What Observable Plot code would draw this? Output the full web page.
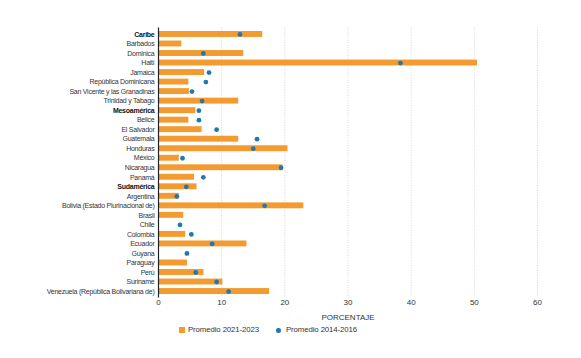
<!DOCTYPE html>
<html>
<head>
<meta charset="utf-8">
<script src="https://cdn.jsdelivr.net/npm/d3@7"></script>
<script src="https://cdn.jsdelivr.net/npm/@observablehq/plot@0.6"></script>
<style>
  body { margin: 0; background: #fff; font-family: "Liberation Sans", Arial, sans-serif; }
  #chart { width: 581px; }
  #chart svg { display: block; }
  .lg { position: relative; height: 20px; width: 581px; font-size: 7.8px; color: #333; letter-spacing: -0.1px; }
  .lg .it { position: absolute; top: 3px; white-space: nowrap; line-height: 10px; }
  .lg .sw { position: absolute; }
  .ylab text { letter-spacing: -0.25px; }
</style>
</head>
<body>
<div id="chart"></div>
<script>
const names = ["Caribe","Barbados","Dominica","Haití","Jamaica","República Dominicana","San Vicente y las Granadinas","Trinidad y Tabago","Mesoamérica","Belice","El Salvador","Guatemala","Honduras","México","Nicaragua","Panamá","Sudamérica","Argentina","Bolivia (Estado Plurinacional de)","Brasil","Chile","Colombia","Ecuador","Guyana","Paraguay","Perú","Suriname","Venezuela (República Bolivariana de)"];
const regions = ["Caribe","Mesoamérica","Sudamérica"];
const prom2021 = [16.5,3.7,13.5,50.5,7.3,4.8,4.9,12.7,5.9,4.8,6.9,12.7,20.5,3.3,19.7,5.7,6.1,3.3,23.0,4.0,null,4.3,14.0,null,4.6,7.2,10.2,17.6];
const prom2014 = [12.9,null,7.1,38.3,8.0,7.5,5.3,6.9,6.4,6.4,9.2,15.6,15.0,3.8,19.4,7.1,4.4,2.9,16.8,null,3.4,5.2,8.5,4.5,null,5.9,9.2,11.1];
const xTicks = [0,10,20,30,40,50,60];
const legendLabels = ["Promedio 2021-2023","Promedio 2014-2016"];

const data = names.map((n, i) => ({name: n, a: prom2021[i], b: prom2014[i]}));
const orange = "#F39A30";
const blue = "#1F78B0";
const font = "Liberation Sans, Arial, sans-serif";

const plot = Plot.plot({
  width: 581,
  height: 322,
  marginLeft: 158,
  marginRight: 44,
  marginTop: 27.4,
  marginBottom: 24.4,
  style: {fontFamily: font, fontSize: "7px", color: "#333", background: "#fff"},
  x: {domain: [0, 60], ticks: xTicks, label: null},
  y: {domain: names, padding: 0.38, round: false, label: null},
  marks: [
    Plot.gridX(xTicks.filter(d => d > 0), {stroke: "#ccc", strokeOpacity: 1, strokeDasharray: "1,1.5", strokeWidth: 0.8}),
    Plot.barX(data.filter(d => d.a != null), {x: "a", y: "name", fill: orange}),
    Plot.dot(data.filter(d => d.b != null), {x: "b", y: "name", r: 2.4, fill: blue, stroke: "none"}),
    Plot.ruleX([0], {stroke: "#222", strokeWidth: 1.2}),
    Plot.axisY(names.filter(n => !regions.includes(n)), {tickSize: 0, tickPadding: 4, fontSize: 7, label: null, className: "ylab"}),
    Plot.axisY(regions, {tickSize: 0, tickPadding: 4, fontSize: 7, fontWeight: "bold", fill: "#111", label: null, className: "ylab"}),
    Plot.axisX(xTicks, {tickSize: 0, tickPadding: 1, fontSize: 8, label: "PORCENTAJE", labelAnchor: "center", labelArrow: "none", labelOffset: 22})
  ]
});
const chart = document.getElementById("chart");
chart.appendChild(plot);

const legend = document.createElement("div");
legend.className = "lg";
legend.innerHTML = `
  <span class="sw" style="left:179px;top:5px;width:6px;height:6px;background:${orange}"></span>
  <span class="it" style="left:188px">${legendLabels[0]}</span>
  <span class="sw" style="left:276px;top:6px;width:4.5px;height:4.5px;border-radius:50%;background:${blue}"></span>
  <span class="it" style="left:286px">${legendLabels[1]}</span>`;
chart.appendChild(legend);
</script>
</body>
</html>
